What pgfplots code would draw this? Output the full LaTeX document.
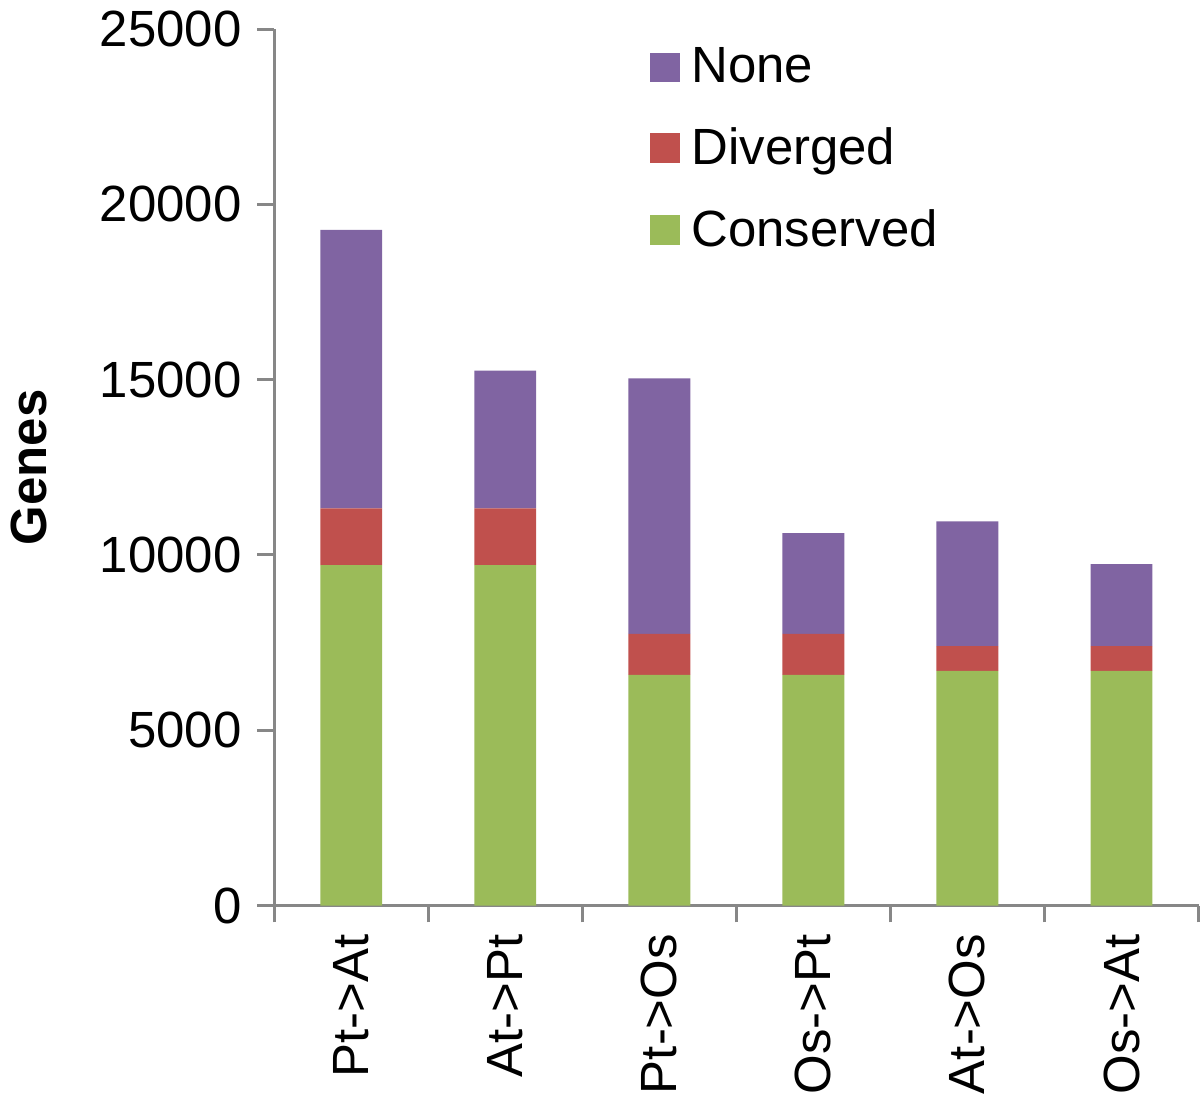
\documentclass[border=0pt]{standalone}
\usepackage{pgfplots}
\pgfplotsset{compat=1.18}
\usepackage{fontspec}
\setmainfont{Liberation Sans}
\definecolor{cons}{HTML}{9BBB59}
\definecolor{dive}{HTML}{C0504D}
\definecolor{nonec}{HTML}{8064A2}
\definecolor{axgray}{HTML}{878787}
\begin{document}
\begin{tikzpicture}[font=\fontsize{15.3}{18}\selectfont]
\begin{axis}[
  scale only axis, width=277.8pt, height=263.4pt,
  ybar stacked, bar width=18.6pt,
  xmin=-0.5, xmax=5.5, ymin=0, ymax=25000,
  axis x line*=bottom, axis y line*=left,
  axis line style={axgray, line width=0.9pt, -},
  tick align=outside,
  tick style={axgray, line width=0.9pt},
  major tick length=5.1pt,
  xtick={-0.5,0.5,1.5,2.5,3.5,4.5,5.5},
  xticklabels={Pt->At,At->Pt,Pt->Os,Os->Pt,At->Os,Os->At},
  x tick label as interval=true,
  x tick label style={rotate=90, anchor=east, text=black},
  ytick={0,5000,10000,15000,20000,25000},
  scaled y ticks=false,
  y tick label style={text=black, xshift=-1.2pt},
  /pgf/number format/1000 sep={},
  /pgf/number format/assume math mode=true,
  ylabel={\bfseries Genes},
  ylabel shift=9pt,
  reverse legend,
  legend cell align=left,
  legend image code/.code={\fill[#1] (0pt,-4.5pt) rectangle (9pt,4.5pt); \path (10.5pt,0pt);},
  legend style={at={(0.395,0.995)}, anchor=north west, draw=none, fill=none,
    row sep=8pt, font=\fontsize{15.3}{18}\selectfont},
]
\addplot[fill=cons, draw=none] coordinates {(0,9710) (1,9710) (2,6580) (3,6580) (4,6690) (5,6690)};
\addplot[fill=dive, draw=none] coordinates {(0,1620) (1,1620) (2,1170) (3,1170) (4,710) (5,710)};
\addplot[fill=nonec, draw=none] coordinates {(0,7940) (1,3930) (2,7290) (3,2870) (4,3560) (5,2340)};
\legend{Conserved,Diverged,None}
\end{axis}
\end{tikzpicture}
\end{document}
